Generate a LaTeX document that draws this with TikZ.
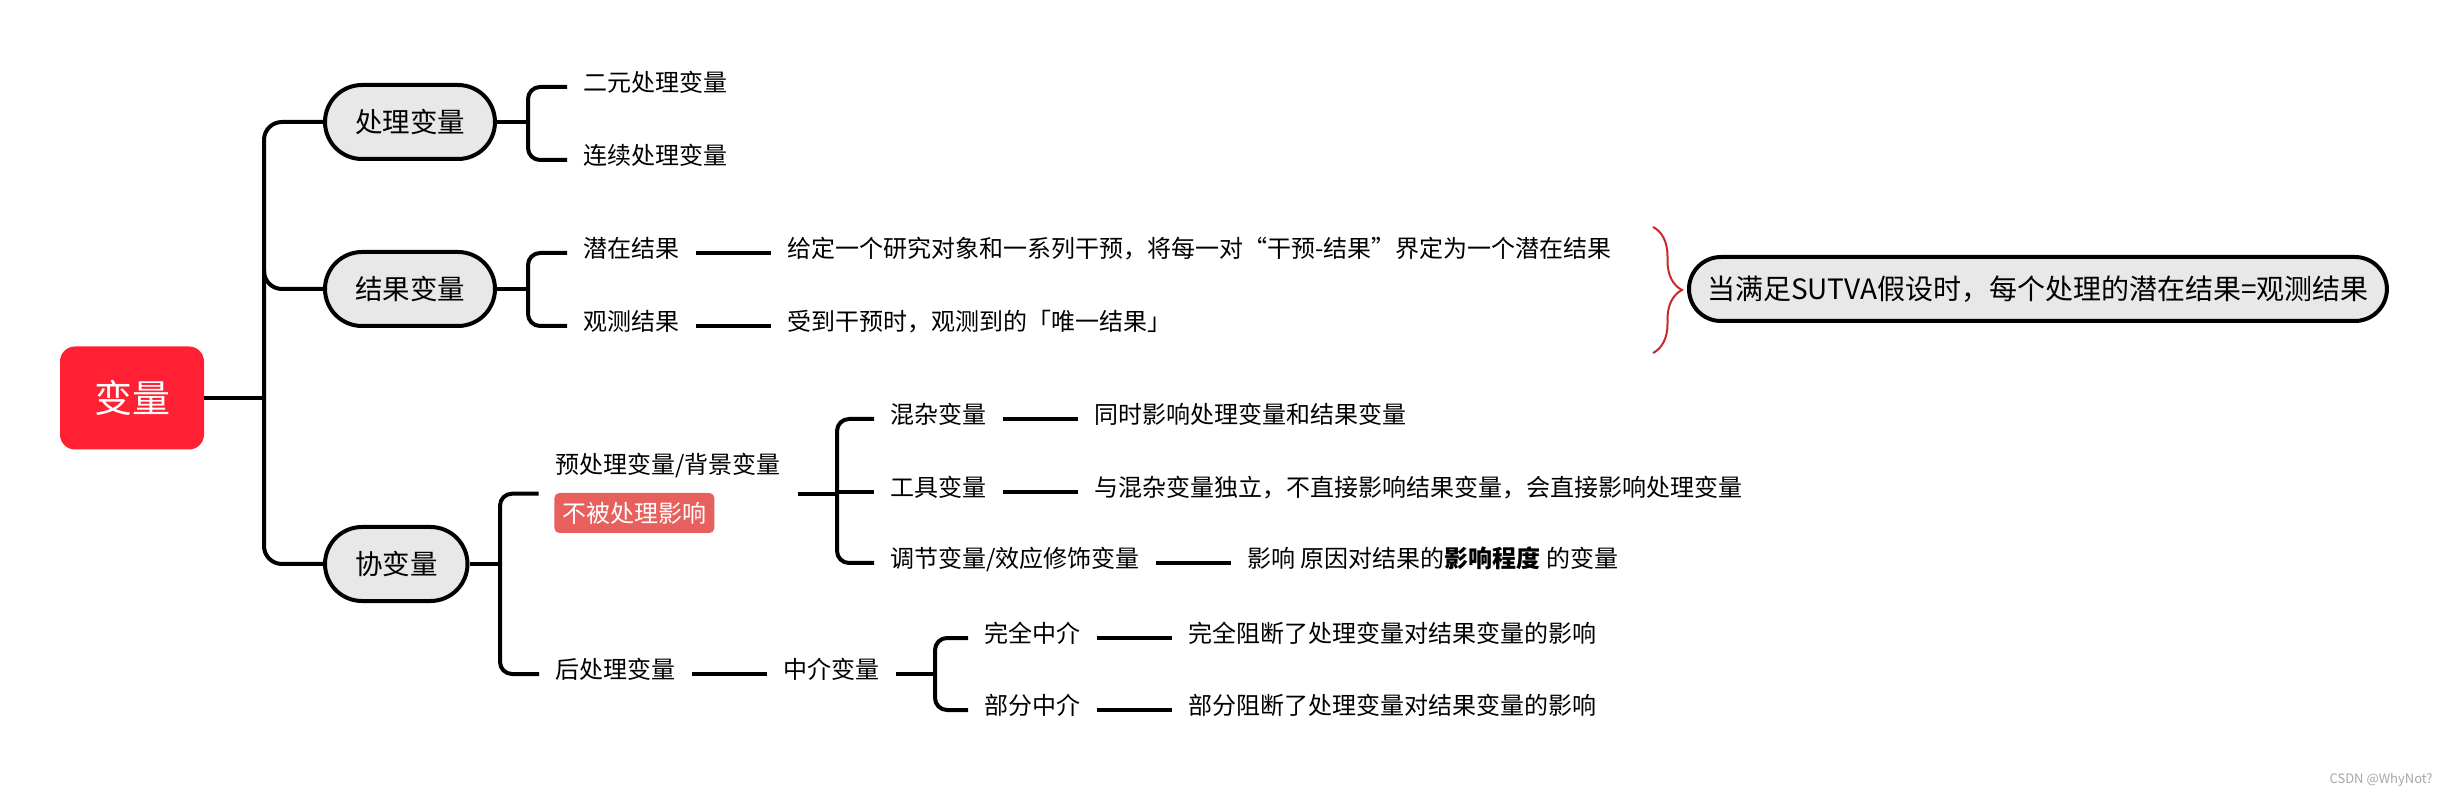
\documentclass[tikz,border=0pt]{standalone}
\usepackage{fontspec}
\setmainfont{Noto Sans CJK SC}
\usetikzlibrary{positioning,fit,decorations.pathreplacing}

\definecolor{rootred}{RGB}{255,32,52}
\definecolor{tagred}{RGB}{232,96,94}
\definecolor{pillgray}{RGB}{232,232,232}
\definecolor{bracered}{RGB}{200,40,42}

\begin{document}
\begin{tikzpicture}[x=0.5pt, y=-0.5pt]
        \tikzset{root/.style={fill=rootred, text=white, rounded corners=7.5pt, minimum width=72pt, minimum height=51.5pt, font=\fontsize{19}{22}\selectfont},
                 pill/.style={draw, line width=2pt, fill=pillgray, rounded corners=18.5pt, minimum height=37pt, inner xsep=15pt, font=\fontsize{13.75}{16}\selectfont},
                 leaf/.style={inner xsep=8pt, inner ysep=0pt, text height=9.6pt, text depth=5pt, font=\fontsize{12}{14}\selectfont},
                 tagbox/.style={fill=tagred, text=white, rounded corners=2.5pt, inner xsep=4pt, minimum height=20pt, font=\fontsize{12}{14}\selectfont},
                 branch/.style={line width=2pt, rounded corners=6pt},
                 link/.style={line width=2pt}}
        \useasboundingbox (0,0) rectangle (2448,796);

        % root and first level
        \node[root] (var) at (132,398) {变量};
        \node[pill, anchor=west] (treat) at (323,122) {处理变量};
        \node[pill, anchor=west] (outc) at (323,289) {结果变量};
        \node[pill, anchor=west] (cov) at (323,564) {协变量};

        \coordinate (trunk) at (264,398);
        \draw[link] (var.east) -- (trunk);
        \draw[branch, rounded corners=9pt] (treat.west) -| (trunk) |- (cov.west);
        \draw[branch, rounded corners=9pt] (264,270) |- (outc.west);

        % treatment
        \node[leaf, anchor=west] (bin) at (567,87) {二元处理变量};
        \node[leaf, anchor=west] (cont) at (567,160) {连续处理变量};
        \coordinate (tb) at (528,122);
        \draw[link] (treat.east) -- (tb);
        \draw[branch] (bin.west) -| (tb) |- (cont.west);

        % outcome
        \node[leaf, anchor=west] (pot) at (567,253) {潜在结果};
        \node[leaf, anchor=west] (obs) at (567,326) {观测结果};
        \node[leaf, right=37.5pt of pot] (potd) {给定一个研究对象和一系列干预，将每一对“干预-结果”界定为一个潜在结果};
        \node[leaf, right=37.5pt of obs] (obsd) {受到干预时，观测到的「唯一结果」};
        \coordinate (ob) at (528,289);
        \draw[link] (outc.east) -- (ob);
        \draw[branch] (pot.west) -| (ob) |- (obs.west);
        \draw[link] (pot) -- (potd);
        \draw[link] (obs) -- (obsd);

        \coordinate (bt) at (1653,227);
        \coordinate (bb) at (1653,353);
        \draw[bracered, line width=1pt, decorate, decoration={brace, amplitude=14.5pt}] (bt) -- (bb);
        \node[pill, anchor=west, minimum height=32pt, rounded corners=16pt, inner xsep=9pt, font=\fontsize{14}{16}\selectfont] (sutva) at (1687,289) {当满足SUTVA假设时，每个处理的潜在结果=观测结果};

        % covariates
        \node[leaf, anchor=west] (pre) at (539,469) {预处理变量/背景变量};
        \node[tagbox, anchor=west] (tag) at (554,513) {不被处理影响};
        \node[fit=(pre)(tag), inner sep=0pt] (pregrp) {};
        \node[leaf, anchor=west] (post) at (539,674) {后处理变量};
        \coordinate (cb) at (500,564);
        \draw[link] (cov.east) -- (cb);
        \draw[branch] (pregrp.west) -| (cb) |- (post.west);

        \node[leaf, anchor=west] (conf) at (874,419) {混杂变量};
        \node[leaf, anchor=west] (instr) at (874,492) {工具变量};
        \node[leaf, anchor=west] (mod) at (874,563) {调节变量/效应修饰变量};
        \node[leaf, right=37.5pt of conf] (confd) {同时影响处理变量和结果变量};
        \node[leaf, right=37.5pt of instr] (instrd) {与混杂变量独立，不直接影响结果变量，会直接影响处理变量};
        \node[leaf, right=37.5pt of mod] (modd) {影响 原因对结果的\textbf{影响程度} 的变量};
        \coordinate (kb) at (837,492);
        \draw[link] (pregrp.east) -- (pregrp.east -| kb);
        \draw[branch] (conf.west) -| (kb) |- (mod.west);
        \draw[link] (kb) -- (instr.west);
        \draw[link] (conf) -- (confd);
        \draw[link] (instr) -- (instrd);
        \draw[link] (mod) -- (modd);

        \node[leaf, right=37.5pt of post] (med) {中介变量};
        \draw[link] (post) -- (med);
        \node[leaf, anchor=west] (full) at (968,638) {完全中介};
        \node[leaf, anchor=west] (part) at (968,710) {部分中介};
        \node[leaf, right=37.5pt of full] (fulld) {完全阻断了处理变量对结果变量的影响};
        \node[leaf, right=37.5pt of part] (partd) {部分阻断了处理变量对结果变量的影响};
        \coordinate (mb) at (935,674);
        \draw[link] (med.east) -- (mb);
        \draw[branch] (full.west) -| (mb) |- (part.west);
        \draw[link] (full) -- (fulld);
        \draw[link] (part) -- (partd);

        \node[anchor=east, inner sep=0pt, text=gray!70, font=\fontsize{6.5}{8}\selectfont] (mark) at (2433,780) {CSDN @WhyNot?};
\end{tikzpicture}
\end{document}
